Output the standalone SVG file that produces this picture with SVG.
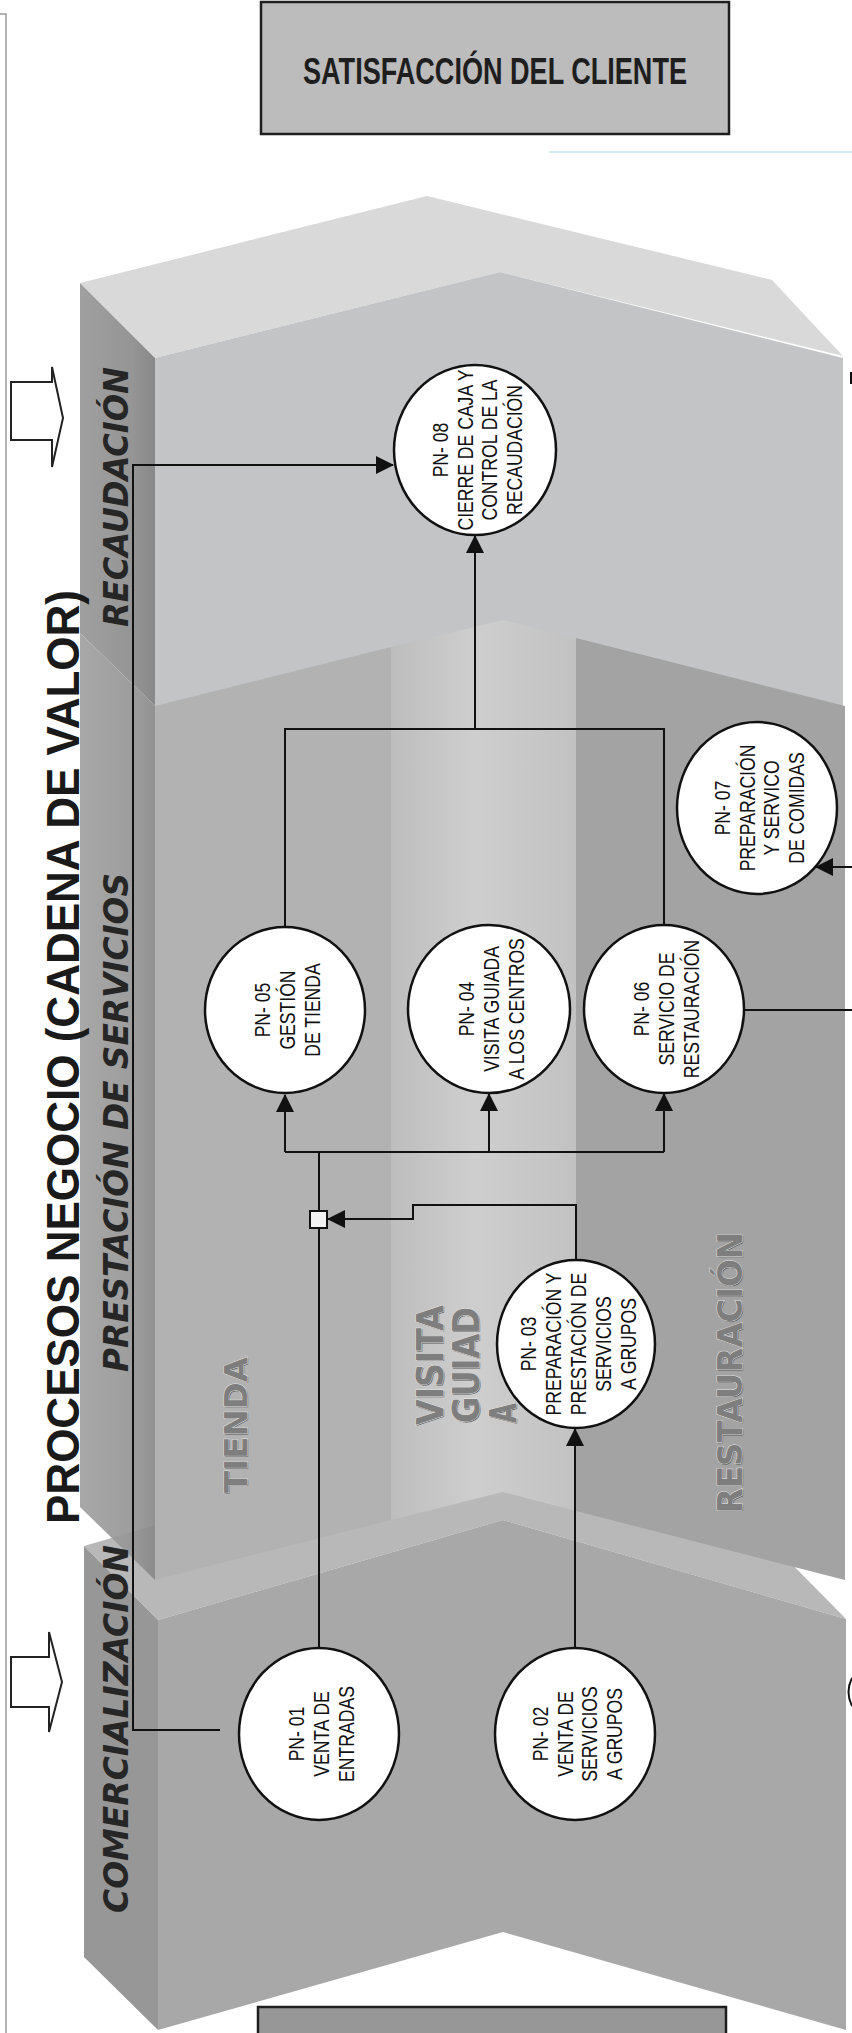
<svg xmlns="http://www.w3.org/2000/svg" width="852" height="2033" viewBox="0 0 852 2033">
<style>
.node ellipse{fill:#ffffff;stroke:#111;stroke-width:2.5}
.nt{font-family:"Liberation Sans",Arial,sans-serif;font-size:22px;fill:#111;text-anchor:middle}
.con{fill:none;stroke:#111;stroke-width:2}
.side{font-family:"DejaVu Sans",Verdana,sans-serif;font-weight:bold;font-style:italic;font-size:34px;fill:#262626}
.col{font-family:"DejaVu Sans",Verdana,sans-serif;font-weight:bold;fill:#7e7e7e;stroke:#e4e4e4;stroke-width:1;paint-order:stroke}
.sh{font-family:"DejaVu Sans",Verdana,sans-serif;font-weight:bold;fill:#5c5c5c}
</style>
<defs>
<marker id="ah" markerUnits="userSpaceOnUse" markerWidth="20" markerHeight="20" refX="17" refY="9" orient="auto" viewBox="0 0 20 18">
<path d="M0,0 L18,9 L0,18 z" fill="#111"/>
</marker>
<linearGradient id="gVis" x1="391" y1="0" x2="576" y2="0" gradientUnits="userSpaceOnUse">
<stop offset="0" stop-color="#bdbdbd"/><stop offset="0.45" stop-color="#cecece"/><stop offset="1" stop-color="#c2c2c2"/>
</linearGradient>
<linearGradient id="gSide" x1="80" y1="0" x2="155" y2="0" gradientUnits="userSpaceOnUse">
<stop offset="0" stop-color="#a0a0a0"/><stop offset="0.7" stop-color="#959595"/><stop offset="1" stop-color="#888888"/>
</linearGradient>
</defs>
<rect width="852" height="2033" fill="#ffffff"/>
<path d="M0,14 H6 V2033" fill="none" stroke="#9a9a9a" stroke-width="1.5"/>
<line x1="549" y1="152" x2="852" y2="152" stroke="#cfeef2" stroke-width="2"/>

<g id="bloques">
<polygon points="80,283 427,196 772,280 843,356 500,272 155,358" fill="#d9d9d9"/>
<polygon points="80,283 155,358 155,706 80,633" fill="url(#gSide)"/>
<polygon points="155,358 500,272 843,358 843,720 155,720" fill="#c3c4c6"/>
<polygon points="84,1546 429,1446 773,1545 846,1619 503,1520 158,1620" fill="#b8b8b8"/>
<polygon points="80,633 155,706 155,1580 80,1507" fill="url(#gSide)" opacity="0.92"/>
<polygon points="155,706 391,647 391,1520 155,1580" fill="#b2b2b2"/>
<polygon points="391,647 503,620 576,638 576,1511 503,1492 391,1520" fill="url(#gVis)"/>
<polygon points="576,638 845,706 845,1580 576,1511" fill="#a3a3a3"/>
<polygon points="84,1546 158,1620 158,2030 84,1957" fill="#979797"/>
<polygon points="158,1620 503,1520 846,1619 846,2030 503,1932 158,2030" fill="#a8a8a8"/>
</g>

<g id="satisfaccion">
<rect x="261" y="2" width="468" height="132" fill="#bcbcbc" stroke="#1e1e1e" stroke-width="2.5"/>
<text x="495" y="84" font-family="'Liberation Sans',Arial,sans-serif" font-weight="bold" font-size="36" fill="#1e1e1e" text-anchor="middle" textLength="384" lengthAdjust="spacingAndGlyphs">SATISFACCIÓN DEL CLIENTE</text>
</g>
<g id="caja-inferior">
<rect x="258" y="2007" width="468" height="40" fill="#979797" stroke="#1e1e1e" stroke-width="2.5"/>
</g>

<g id="flechas-bloque" fill="#ffffff" stroke="#222" stroke-width="2">
<polygon points="11,382 52,382 52,367 63,418 52,467 52,440 11,440"/>
<polygon points="11,1657 49,1657 49,1632 62,1682 49,1732 49,1707 11,1707"/>
</g>

<g id="titulos">
<text transform="translate(79,1524) rotate(-90)" font-family="'Liberation Sans',Arial,sans-serif" font-weight="bold" font-size="47" fill="#1a1a1a" textLength="934" lengthAdjust="spacingAndGlyphs">PROCESOS NEGOCIO (CADENA DE VALOR)</text>
<text class="side" transform="translate(128,627) rotate(-90)" textLength="260" lengthAdjust="spacingAndGlyphs">RECAUDACIÓN</text>
<text class="side" transform="translate(128,1372) rotate(-90)" textLength="499" lengthAdjust="spacingAndGlyphs">PRESTACIÓN DE SERVICIOS</text>
<text class="side" transform="translate(128,1913) rotate(-90)" textLength="368" lengthAdjust="spacingAndGlyphs">COMERCIALIZACIÓN</text>
<text class="sh" font-size="32" transform="translate(248,1494) rotate(-90)" textLength="136" lengthAdjust="spacingAndGlyphs">TIENDA</text>
<text class="col" font-size="32" transform="translate(247,1493) rotate(-90)" textLength="136" lengthAdjust="spacingAndGlyphs">TIENDA</text>
<text class="sh" font-size="38" transform="translate(444,1426) rotate(-90)" textLength="120" lengthAdjust="spacingAndGlyphs">VISITA</text>
<text class="col" font-size="38" transform="translate(443,1425) rotate(-90)" textLength="120" lengthAdjust="spacingAndGlyphs">VISITA</text>
<text class="sh" font-size="38" transform="translate(480,1424) rotate(-90)" textLength="116" lengthAdjust="spacingAndGlyphs">GUIAD</text>
<text class="col" font-size="38" transform="translate(479,1423) rotate(-90)" textLength="116" lengthAdjust="spacingAndGlyphs">GUIAD</text>
<text class="sh" font-size="38" transform="translate(517,1424) rotate(-90)" textLength="20" lengthAdjust="spacingAndGlyphs">A</text>
<text class="col" font-size="38" transform="translate(516,1423) rotate(-90)" textLength="20" lengthAdjust="spacingAndGlyphs">A</text>
<text class="sh" font-size="34" transform="translate(743,1514) rotate(-90)" textLength="281" lengthAdjust="spacingAndGlyphs">RESTAURACIÓN</text>
<text class="col" font-size="34" transform="translate(742,1513) rotate(-90)" textLength="281" lengthAdjust="spacingAndGlyphs">RESTAURACIÓN</text>
</g>

<g id="conectores">
<path class="con" d="M319,1648 V1228"/>
<path class="con" d="M319,1211 V1152"/>
<path class="con" d="M285,1152 H664"/>
<path class="con" d="M285,1152 V1095" marker-end="url(#ah)"/>
<path class="con" d="M489,1152 V1094" marker-end="url(#ah)"/>
<path class="con" d="M664,1152 V1094" marker-end="url(#ah)"/>
<path class="con" d="M575,1648 V1429" marker-end="url(#ah)"/>
<path class="con" d="M576,1260 V1205 H413 V1219 H328" marker-end="url(#ah)"/>
<path class="con" d="M285,927 V729 H664 V925" stroke-width="2.5"/>
<path class="con" d="M475,729 V536" stroke-width="2.5" marker-end="url(#ah)"/>
<path class="con" d="M220,1730 H133 V465 H393" stroke-width="3" marker-end="url(#ah)"/>
<path class="con" d="M744,1010 H852"/>
<path class="con" d="M852,867 H816" marker-end="url(#ah)"/>
<path class="con" d="M851,372 V384"/>
<path class="con" d="M852,1678 Q845,1692 852,1706"/>
<rect id="union" x="310" y="1211" width="17" height="17" fill="#f2f2f2" stroke="#111" stroke-width="2"/>
</g>

<g id="PN-08" class="node"><ellipse cx="475" cy="450" rx="81" ry="85"/>
<g transform="translate(475,450) rotate(-90) scale(0.8,1)"><text class="nt"><tspan x="0" y="-27.5">PN- 08</tspan><tspan x="0" y="-2.5">CIERRE DE CAJA Y</tspan><tspan x="0" y="22.5">CONTROL DE LA</tspan><tspan x="0" y="47.5">RECAUDACIÓN</tspan></text></g></g>

<g id="PN-05" class="node"><ellipse cx="285" cy="1010" rx="80" ry="83"/>
<g transform="translate(285,1010) rotate(-90) scale(0.8,1)"><text class="nt"><tspan x="0" y="-15">PN- 05</tspan><tspan x="0" y="10">GESTIÓN</tspan><tspan x="0" y="35">DE TIENDA</tspan></text></g></g>

<g id="PN-04" class="node"><ellipse cx="489" cy="1009" rx="81" ry="84"/>
<g transform="translate(489,1009) rotate(-90) scale(0.8,1)"><text class="nt"><tspan x="0" y="-15">PN- 04</tspan><tspan x="0" y="10">VISITA GUIADA</tspan><tspan x="0" y="35">A LOS CENTROS</tspan></text></g></g>

<g id="PN-06" class="node"><ellipse cx="664" cy="1009" rx="80" ry="84"/>
<g transform="translate(664,1009) rotate(-90) scale(0.8,1)"><text class="nt"><tspan x="0" y="-15">PN- 06</tspan><tspan x="0" y="10">SERVICIO DE</tspan><tspan x="0" y="35">RESTAURACIÓN</tspan></text></g></g>

<g id="PN-07" class="node"><ellipse cx="757" cy="808" rx="80" ry="86"/>
<g transform="translate(757,808) rotate(-90) scale(0.8,1)"><text class="nt"><tspan x="0" y="-27.5">PN- 07</tspan><tspan x="0" y="-2.5">PREPARACIÓN</tspan><tspan x="0" y="22.5">Y SERVICO</tspan><tspan x="0" y="47.5">DE COMIDAS</tspan></text></g></g>

<g id="PN-03" class="node"><ellipse cx="576" cy="1344" rx="79" ry="84"/>
<g transform="translate(576,1344) rotate(-90) scale(0.8,1)"><text class="nt"><tspan x="0" y="-40">PN- 03</tspan><tspan x="0" y="-15">PREPARACIÓN Y</tspan><tspan x="0" y="10">PRESTACIÓN DE</tspan><tspan x="0" y="35">SERVICIOS</tspan><tspan x="0" y="60">A GRUPOS</tspan></text></g></g>

<g id="PN-01" class="node"><ellipse cx="319" cy="1734" rx="80" ry="86"/>
<g transform="translate(319,1734) rotate(-90) scale(0.8,1)"><text class="nt"><tspan x="0" y="-15">PN- 01</tspan><tspan x="0" y="10">VENTA DE</tspan><tspan x="0" y="35">ENTRADAS</tspan></text></g></g>

<g id="PN-02" class="node"><ellipse cx="575" cy="1734" rx="80" ry="86"/>
<g transform="translate(575,1734) rotate(-90) scale(0.8,1)"><text class="nt"><tspan x="0" y="-27.5">PN- 02</tspan><tspan x="0" y="-2.5">VENTA DE</tspan><tspan x="0" y="22.5">SERVICIOS</tspan><tspan x="0" y="47.5">A GRUPOS</tspan></text></g></g>
</svg>
